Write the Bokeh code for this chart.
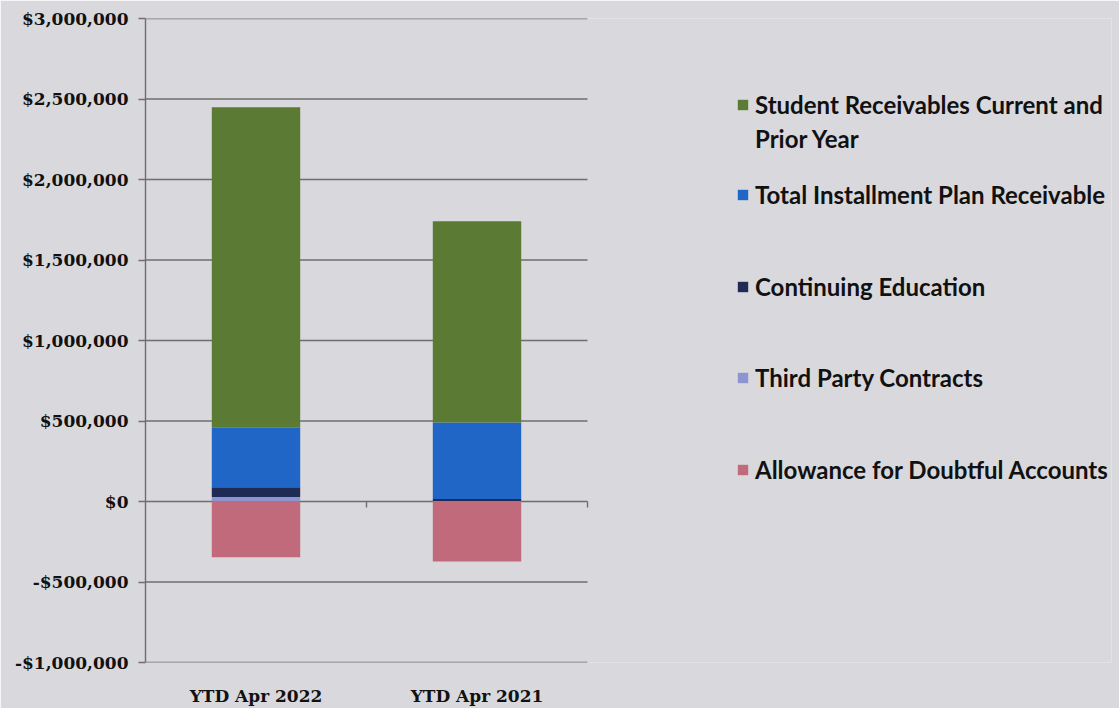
import math
from bokeh.plotting import figure
from bokeh.models import (Range1d, NumeralTickFormatter, Legend,
                          LegendItem, FixedTicker)
from bokeh.embed import file_html
from bokeh.resources import INLINE

# ---- data ----
categories = ["YTD Apr 2022", "YTD Apr 2021"]
third_party = [28000, 3000]
continuing_ed = [60000, 12000]
installment = [370000, 476000]
student = [1990000, 1250000]
allowance = [-347000, -372000]
y_ticks = [-1000000, -500000, 0, 500000, 1000000, 1500000, 2000000, 2500000, 3000000]

series_names = ["Third Party Contracts", "Continuing Education",
                "Total Installment Plan Receivable",
                "Student Receivables Current and", "Prior Year"]
colors = ["#8c95cf", "#1f2b55", "#2066c6", "#5b7a34"]
allowance_name = "Allowance for Doubtful Accounts"
allowance_color = "#c06a7c"

BG = "#d9d9dd"
GRID = "#6e6e6e"

# category slots on a numeric axis (one unit per category)
xpos = [i + 0.5 for i in range(len(categories))]
bounds = [i + 1 for i in range(len(categories))]
n_cat = len(categories)

source = dict(x=xpos, cat=categories, tp=third_party, ce=continuing_ed,
              inst=installment, stu=student, allow=allowance)

p = figure(width=1119, height=708, x_range=Range1d(0, 4.371),
           y_range=Range1d(-1000000, 3000000), output_backend="svg",
           toolbar_location=None, min_border_left=145, min_border_right=8,
           min_border_top=18, min_border_bottom=45)

# gridlines, ending at the last category slot like the original
p.segment(x0=[0] * len(y_ticks), x1=[n_cat] * len(y_ticks), y0=y_ticks, y1=y_ticks,
          line_color=GRID, line_width=1.4)
# category-boundary tick marks on the zero line
p.ray(x=bounds, y=[0] * len(bounds), length=6, length_units="screen",
      angle=-math.pi / 2, line_color=GRID, line_width=1.4)

renderers = p.vbar_stack(["tp", "ce", "inst", "stu"], x="x", width=0.40,
                         color=colors, source=source, line_color=None)
neg = p.vbar(x="x", top="allow", bottom=0, width=0.40, color=allowance_color,
             line_color=None, source=source)

p.background_fill_color = BG
p.border_fill_color = BG
p.outline_line_color = None

p.xgrid.grid_line_color = None
p.ygrid.grid_line_color = None

p.yaxis.ticker = FixedTicker(ticks=y_ticks)
p.yaxis.formatter = NumeralTickFormatter(format="$0,0")
p.yaxis.axis_line_color = GRID
p.yaxis.axis_line_width = 1.4
p.yaxis.major_tick_line_color = GRID
p.yaxis.major_tick_line_width = 1.4
p.yaxis.major_tick_out = 7
p.yaxis.major_tick_in = 0
p.yaxis.minor_tick_line_color = None
p.yaxis.major_label_standoff = 10
p.yaxis.major_label_text_font = "DejaVu Serif"
p.yaxis.major_label_text_font_style = "bold"
p.yaxis.major_label_text_font_size = "17px"
p.yaxis.major_label_text_color = "#111111"

p.xaxis.ticker = FixedTicker(ticks=xpos)
p.xaxis.major_label_overrides = {x: c for x, c in zip(xpos, categories)}
p.xaxis.axis_line_color = None
p.xaxis.major_tick_line_color = None
p.xaxis.minor_tick_line_color = None
p.xaxis.major_label_standoff = 17
p.xaxis.major_label_text_font = "DejaVu Serif"
p.xaxis.major_label_text_font_style = "bold"
p.xaxis.major_label_text_font_size = "17px"
p.xaxis.major_label_text_color = "#111111"

# ---- legend: one small legend per line so it can be spaced like the original ----
entries = [(series_names[3], renderers[3], 543, 13),
           (series_names[4], renderers[3], 509, 0),
           (series_names[2], renderers[2], 453, 13),
           (series_names[1], renderers[1], 361, 13),
           (series_names[0], renderers[0], 270, 13),
           (allowance_name, neg, 178, 13)]
for label, r, ypos, gh in entries:
    lg = Legend(items=[LegendItem(label=label, renderers=[r])],
                location=(591, ypos), orientation="vertical")
    lg.background_fill_alpha = 0
    lg.border_line_color = None
    lg.padding = 0
    lg.margin = 0
    lg.glyph_width = 13
    lg.glyph_height = gh
    lg.label_standoff = 6
    lg.label_height = 24
    lg.label_text_font = "Lato"
    lg.label_text_font_style = "bold"
    lg.label_text_font_size = "24px"
    lg.label_text_color = "#111111"
    p.add_layout(lg, "center")

html = file_html(p, INLINE)
open("out.html", "w").write(html)
